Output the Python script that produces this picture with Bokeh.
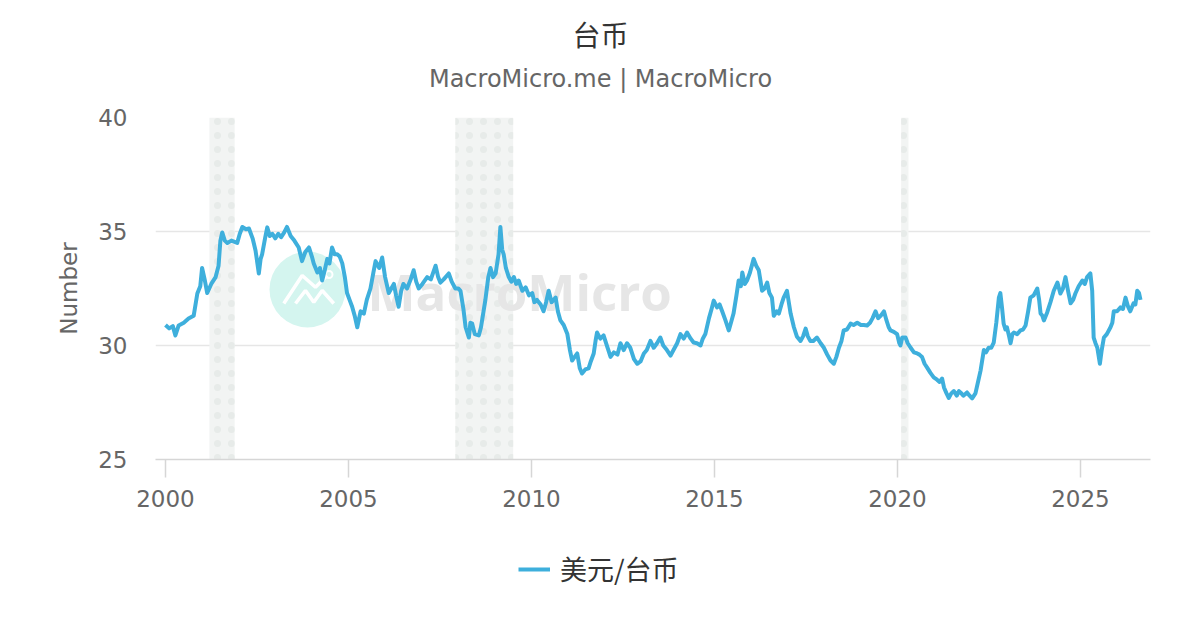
from bokeh.plotting import figure
from bokeh.layouts import column
from bokeh.models import (Range1d, FixedTicker, BoxAnnotation, Label,
                          Legend, LegendItem)
from bokeh.embed import file_html
from bokeh.resources import INLINE

# ---------------- data (decimal year, USD/TWD) ----------------
years = [
    2000.0, 2000.1, 2000.2, 2000.27, 2000.36, 2000.5, 2000.63, 2000.77, 2000.87, 2000.95,
    2001.0, 2001.07, 2001.14, 2001.25, 2001.37, 2001.45, 2001.5, 2001.55, 2001.62, 2001.69,
    2001.8, 2001.96, 2002.03, 2002.1, 2002.2, 2002.28, 2002.38, 2002.46, 2002.55, 2002.6,
    2002.64, 2002.72, 2002.78, 2002.85, 2002.92, 2003.0, 2003.08, 2003.16, 2003.24, 2003.32,
    2003.42, 2003.52, 2003.64, 2003.73, 2003.82, 2003.92, 2004.0, 2004.05, 2004.15, 2004.22,
    2004.28, 2004.35, 2004.42, 2004.48, 2004.55, 2004.62, 2004.69, 2004.76, 2004.83, 2004.9,
    2004.96, 2005.03, 2005.1, 2005.17, 2005.24, 2005.33, 2005.42, 2005.5, 2005.6, 2005.68,
    2005.74, 2005.84, 2005.92, 2006.0, 2006.1, 2006.17, 2006.24, 2006.3, 2006.37, 2006.44,
    2006.5, 2006.6, 2006.7, 2006.78, 2006.85, 2006.92, 2007.02, 2007.15, 2007.25, 2007.38,
    2007.45, 2007.51, 2007.6, 2007.74, 2007.82, 2007.92, 2008.0, 2008.06, 2008.14, 2008.2,
    2008.29, 2008.33, 2008.38, 2008.45, 2008.56, 2008.62, 2008.68, 2008.74, 2008.82, 2008.88,
    2008.95, 2009.02, 2009.1, 2009.15, 2009.2, 2009.24, 2009.3, 2009.38, 2009.45, 2009.52,
    2009.58, 2009.65, 2009.75, 2009.84, 2009.93, 2010.02, 2010.08, 2010.15, 2010.25, 2010.33,
    2010.4, 2010.47, 2010.55, 2010.66, 2010.72, 2010.79, 2010.88, 2010.98, 2011.05, 2011.11,
    2011.18, 2011.25, 2011.32, 2011.38, 2011.47, 2011.56, 2011.62, 2011.7, 2011.75, 2011.79,
    2011.88, 2011.97, 2012.08, 2012.16, 2012.25, 2012.35, 2012.43, 2012.52, 2012.61, 2012.7,
    2012.8, 2012.89, 2012.98, 2013.07, 2013.15, 2013.25, 2013.34, 2013.43, 2013.52, 2013.6,
    2013.7, 2013.8, 2013.88, 2013.98, 2014.07, 2014.16, 2014.25, 2014.35, 2014.43, 2014.52,
    2014.62, 2014.68, 2014.75, 2014.85, 2014.92, 2014.98, 2015.07, 2015.14, 2015.21, 2015.3,
    2015.39, 2015.45, 2015.52, 2015.6, 2015.66, 2015.72, 2015.76, 2015.83, 2015.89, 2015.97,
    2016.07, 2016.14, 2016.21, 2016.26, 2016.3, 2016.37, 2016.44, 2016.5, 2016.57, 2016.62,
    2016.7, 2016.76, 2016.83, 2016.89, 2016.95, 2016.98, 2017.04, 2017.08, 2017.17, 2017.25,
    2017.35, 2017.42, 2017.49, 2017.55, 2017.62, 2017.7, 2017.8, 2017.9, 2017.99, 2018.08,
    2018.17, 2018.26, 2018.33, 2018.4, 2018.47, 2018.53, 2018.62, 2018.72, 2018.8, 2018.9,
    2019.0, 2019.08, 2019.17, 2019.25, 2019.32, 2019.4, 2019.47, 2019.54, 2019.63, 2019.7,
    2019.76, 2019.81, 2019.9, 2019.99, 2020.05, 2020.08, 2020.13, 2020.22, 2020.28, 2020.36,
    2020.45, 2020.54, 2020.6, 2020.67, 2020.74, 2020.81, 2020.9, 2020.99, 2021.08, 2021.15,
    2021.22, 2021.27, 2021.34, 2021.4, 2021.47, 2021.54, 2021.62, 2021.68, 2021.72, 2021.8,
    2021.9, 2021.97, 2022.04, 2022.13, 2022.2, 2022.27, 2022.32, 2022.36, 2022.42, 2022.49,
    2022.56, 2022.63, 2022.7, 2022.77, 2022.81, 2022.86, 2022.9, 2022.95, 2022.99, 2023.05,
    2023.09, 2023.14, 2023.18, 2023.27, 2023.36, 2023.43, 2023.5, 2023.57, 2023.63, 2023.72,
    2023.82, 2023.87, 2023.91, 2023.96, 2024.0, 2024.09, 2024.18, 2024.27, 2024.37, 2024.45,
    2024.52, 2024.59, 2024.66, 2024.73, 2024.8, 2024.86, 2024.95, 2025.05, 2025.12, 2025.18,
    2025.27, 2025.32, 2025.36, 2025.41, 2025.46, 2025.53, 2025.58, 2025.64, 2025.72, 2025.82,
    2025.87, 2025.91, 2026.0, 2026.09, 2026.16, 2026.23, 2026.3, 2026.36, 2026.45, 2026.5,
    2026.55, 2026.6, 2026.64,
]
usd_twd = [
    30.9, 30.75, 30.85, 30.44, 30.88, 31.0, 31.18, 31.3, 32.28, 32.6,
    33.4, 32.9, 32.3, 32.7, 33.0, 33.5, 34.6, 34.96, 34.6, 34.5,
    34.6, 34.5, 34.9, 35.2, 35.1, 35.13, 34.7, 34.17, 33.16, 33.8,
    34.0, 34.7, 35.18, 34.8, 34.9, 34.7, 34.9, 34.75, 34.95, 35.2,
    34.8, 34.6, 34.3, 33.7, 34.1, 34.3, 33.9, 33.6, 33.2, 33.4,
    32.85, 33.3, 33.8, 33.6, 34.3, 34.0, 34.0, 33.9, 33.6, 33.0,
    32.3, 32.0, 31.7, 31.3, 30.8, 31.5, 31.4, 32.0, 32.5, 33.2,
    33.7, 33.4, 33.86, 33.0, 32.3, 32.5, 32.7, 32.2, 31.7, 32.4,
    32.7, 32.5, 32.9, 33.3, 32.8, 32.5, 32.7, 33.0, 32.9, 33.5,
    33.0, 32.76, 32.9, 33.16, 32.8, 32.5, 32.5, 32.4, 31.6, 30.8,
    30.35, 31.0, 30.96, 30.5, 30.44, 30.8, 31.4, 32.0, 33.0, 33.4,
    33.0, 33.16, 34.0, 35.2, 34.2, 34.0, 33.4, 33.0, 32.8, 33.0,
    32.7, 32.85, 32.4, 32.55, 32.2, 32.3, 31.9, 32.0, 31.8, 31.5,
    31.9, 32.4, 31.9, 32.1, 31.5, 31.1, 30.9, 30.5, 29.8, 29.34,
    29.5, 29.65, 29.0, 28.77, 28.95, 29.0, 29.3, 29.65, 30.2, 30.57,
    30.3, 30.44, 29.9, 29.5, 29.7, 29.6, 30.1, 29.8, 30.1, 29.9,
    29.4, 29.2, 29.3, 29.65, 29.8, 30.2, 29.9, 30.1, 30.35, 30.0,
    29.8, 29.56, 29.8, 30.1, 30.5, 30.3, 30.57, 30.3, 30.13, 30.1,
    30.0, 30.3, 30.5, 31.2, 31.6, 31.97, 31.67, 31.8, 31.5, 31.1,
    30.66, 31.0, 31.4, 32.2, 32.85, 32.6, 33.2, 32.7, 32.85, 33.2,
    33.8, 33.5, 33.3, 32.8, 32.4, 32.5, 32.76, 32.3, 32.1, 31.3,
    31.5, 31.4, 31.8, 32.1, 32.3, 32.4, 31.8, 31.4, 30.8, 30.4,
    30.2, 30.4, 30.74, 30.4, 30.2, 30.2, 30.35, 30.1, 29.9, 29.6,
    29.34, 29.2, 29.5, 29.9, 30.2, 30.66, 30.7, 30.96, 30.9, 31.0,
    30.9, 30.9, 30.88, 31.0, 31.2, 31.5, 31.2, 31.3, 31.5, 31.1,
    30.8, 30.66, 30.6, 30.5, 30.1, 30.0, 30.35, 30.35, 30.1, 29.9,
    29.7, 29.65, 29.6, 29.5, 29.2, 29.03, 28.8, 28.6, 28.5, 28.4,
    28.55, 28.16, 27.9, 27.7, 27.9, 28.0, 27.8, 28.0, 27.94, 27.8,
    27.94, 27.8, 27.68, 27.9, 28.4, 28.9, 29.4, 29.8, 29.7, 29.9,
    29.9, 30.13, 31.0, 32.1, 32.3, 31.6, 30.96, 30.7, 30.8, 30.4,
    30.1, 30.5, 30.57, 30.5, 30.66, 30.7, 30.88, 31.5, 32.1, 32.2,
    32.5, 32.0, 31.4, 31.3, 31.1, 31.45, 31.9, 32.4, 32.76, 32.28,
    32.5, 33.0, 32.4, 31.85, 32.0, 32.28, 32.6, 32.85, 32.7, 33.0,
    33.16, 32.4, 30.35, 30.1, 29.9, 29.2, 29.8, 30.35, 30.5, 30.8,
    31.0, 31.5, 31.5, 31.67, 31.6, 32.1, 31.7, 31.5, 31.85, 31.8,
    32.4, 32.3, 32.0,
]
series_name = "美元/台币"

# recession periods (decimal years)
recession_start = [2001.2, 2007.92, 2020.1]
recession_end = [2001.89, 2009.5, 2020.3]

x_ticks = [2000, 2005, 2010, 2015, 2020, 2025]
y_ticks = [25, 30, 35, 40]

TITLE = "台币"
SUBTITLE = "MacroMicro.me | MacroMicro"
Y_LABEL = "Number"

LATIN = "DejaVu Sans"
CJK = "Noto Sans CJK SC"
LINE_COLOR = "#3eafdc"
LINE_WIDTH = 4.0

W = 1192
BL, BR = 155, 42      # left / right borders shared by all strips


def strip(height):
    f = figure(width=W, height=height, output_backend="svg", toolbar_location=None,
               x_range=Range1d(BL, W - BR), y_range=Range1d(0, height),
               min_border_left=BL, min_border_right=BR, min_border_top=0,
               min_border_bottom=0)
    f.title = None
    f.axis.visible = False
    f.grid.visible = False
    f.outline_line_color = None
    f.border_fill_color = "white"
    return f


# ---------------- title strip ----------------
top = strip(100)
top.add_layout(Label(x=600, y=67, text=TITLE, text_font=CJK, text_font_size="28px",
                     text_color="#333333", text_align="center", text_baseline="middle"))
top.add_layout(Label(x=600, y=22, text=SUBTITLE, text_font=LATIN,
                     text_font_size="24px", text_color="#666666",
                     text_align="center", text_baseline="middle"))

# ---------------- main figure ----------------
p = figure(width=W, height=430, output_backend="svg", toolbar_location=None,
           x_range=Range1d(1999.727, 2026.913), y_range=Range1d(25, 40),
           min_border_left=BL, min_border_right=BR, min_border_top=17,
           min_border_bottom=71)
p.title = None
p.outline_line_color = None
p.background_fill_color = "white"
p.border_fill_color = "white"

# recession shading
for s, e in zip(recession_start, recession_end):
    p.add_layout(BoxAnnotation(left=s, right=e, fill_color="#f2f4f3", fill_alpha=1.0,
                               line_color=None, level="underlay",
                               hatch_pattern="dot", hatch_color="#e7ebe9",
                               hatch_scale=14, hatch_weight=1))

# watermark (decoration, fixed place on the chart)
def _px(xp, yp):
    return 2000 + (xp - 165) / 36.6, 40 - (yp - 117) / 22.8
wm_x, wm_y = _px(307, 289)
p.scatter([wm_x], [wm_y], size=76, marker="circle", fill_color="#d4f5ef",
          line_color=None, level="underlay")
tx, ty = _px(367, 290)
p.add_layout(Label(x=tx, y=ty, text="MacroMicro", text_font="Open Sans",
                   text_font_size="51px", text_font_style="bold",
                   text_color="#e6e6e6", text_baseline="middle", level="underlay"))
up = [_px(283.3, 303), _px(301.7, 275), _px(315, 286.7), _px(326.7, 275)]
lo = [_px(295, 303), _px(305, 290), _px(313.3, 301.7), _px(321.7, 290), _px(333.3, 303)]
p.line([a for a, b in up], [b for a, b in up], line_color="white", line_width=3.5,
       level="underlay")
p.line([a for a, b in lo], [b for a, b in lo], line_color="white", line_width=3.5,
       level="underlay")
rx, ry = _px(328.5, 274)
p.scatter([rx], [ry], size=7, marker="circle", fill_color=None, line_color="white",
          line_width=2, level="underlay")

# series
r = p.line(years, usd_twd, line_color=LINE_COLOR, line_width=LINE_WIDTH,
           line_join="round")

# axes
p.xaxis.ticker = FixedTicker(ticks=x_ticks)
p.yaxis.ticker = FixedTicker(ticks=y_ticks)
p.xaxis.minor_tick_line_color = None
p.yaxis.minor_tick_line_color = None
p.xaxis.axis_line_color = "#d6d6d6"
p.xaxis.axis_line_width = 1.5
p.xaxis.major_tick_line_color = "#d6d6d6"
p.xaxis.major_tick_line_width = 1.5
p.xaxis.major_tick_in = 0
p.xaxis.major_tick_out = 18
p.xaxis.major_label_standoff = 12
p.xaxis.major_label_text_font = LATIN
p.xaxis.major_label_text_font_size = "23px"
p.xaxis.major_label_text_color = "#666666"

p.yaxis.axis_line_color = None
p.yaxis.major_tick_line_color = None
p.yaxis.major_tick_out = 0
p.yaxis.major_tick_in = 0
p.yaxis.major_label_standoff = 28
p.yaxis.major_label_text_font = LATIN
p.yaxis.major_label_text_font_size = "23px"
p.yaxis.major_label_text_color = "#666666"
p.yaxis.axis_label = Y_LABEL
p.yaxis.axis_label_text_font = LATIN
p.yaxis.axis_label_text_font_size = "23px"
p.yaxis.axis_label_text_font_style = "normal"
p.yaxis.axis_label_text_color = "#666666"
p.yaxis.axis_label_standoff = 13

p.xgrid.grid_line_color = None
p.ygrid.grid_line_color = "#e6e6e6"
p.ygrid.grid_line_width = 1.5

# ---------------- legend strip (below the chart) ----------------
lg = strip(92)
# legend proxy: same style as the series, kept outside the strip's visible range
proxy = lg.line([BL, BL + 1], [-50, -50], line_color=LINE_COLOR, line_width=LINE_WIDTH)
legend = Legend(items=[LegendItem(label=series_name, renderers=[proxy])],
                location=(363, 34), orientation="horizontal",
                label_text_font=CJK, label_text_font_size="27px",
                label_text_color="#333333", glyph_width=32, glyph_height=30,
                label_standoff=10, padding=0, margin=0, border_line_color=None,
                background_fill_alpha=0)
lg.add_layout(legend, "center")

open("out.html", "w").write(file_html(column(top, p, lg), INLINE))
